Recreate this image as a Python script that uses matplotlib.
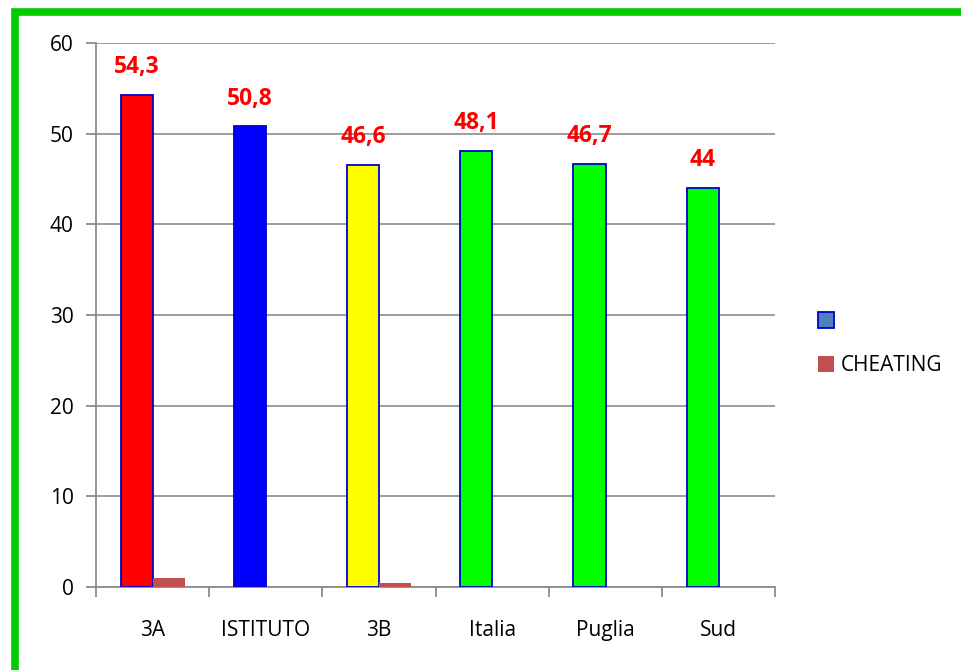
import numpy as np
import matplotlib.pyplot as plt
from matplotlib.patches import Rectangle, Patch

categories = ['3A', 'ISTITUTO', '3B', 'Italia', 'Puglia', 'Sud']
scores = [54.3, 50.8, 46.6, 48.1, 46.7, 44.0]
score_labels = ['54,3', '50,8', '46,6', '48,1', '46,7', '44']
cheating = [1.0, 0.0, 0.45, 0.0, 0.0, 0.0]
bar_colors = ['#FF0000', '#0000FF', '#FFFF00', '#00FF00', '#00FF00', '#00FF00']

plt.rcParams['font.family'] = ['Open Sans', 'DejaVu Sans']

fig = plt.figure(figsize=(9.62, 6.70), dpi=100)
ax = fig.add_axes([0.0998, 0.1239, 0.7062, 0.8119])

# green frame round the chart
fig.patches.append(Rectangle((15.5 / 962, -0.1), 1.2, (670 - 11.5) / 670 + 0.1,
                             transform=fig.transFigure, fill=False,
                             edgecolor='#00CC00', linewidth=5.5, zorder=10))

x = np.arange(len(categories))
w = 0.283
ax.bar(x - w / 2, scores, w, color=bar_colors, edgecolor='#0000CC', linewidth=1.3, zorder=3)
ax.bar(x + w / 2, cheating, w, color='#C0504D', linewidth=0, zorder=3)

for xi, v, lab in zip(x, scores, score_labels):
    ax.annotate(lab, (xi - w / 2, v), xytext=(0, 20), textcoords='offset points',
                ha='center', va='center', color='#FF0000', fontsize=16.5, fontweight='bold')

ax.set_xlim(-0.5, len(categories) - 0.5)
ax.set_ylim(0, 60)
ax.set_yticks(range(0, 61, 10))
ax.yaxis.grid(True, color='#8C8C8C', linewidth=1.2, zorder=0)
ax.set_axisbelow(True)

ax.set_xticks(x)
ax.set_xticklabels(categories)
ax.set_xticks(np.arange(-0.5, len(categories)), minor=True)
ax.tick_params(axis='x', which='major', length=0, pad=24, labelsize=15)
ax.tick_params(axis='x', which='minor', length=7, width=1.3, color='#8C8C8C', direction='out')
ax.tick_params(axis='y', length=7, width=1.3, color='#8C8C8C', labelsize=15, pad=9)

for s in ['top', 'right']:
    ax.spines[s].set_visible(False)
for s in ['left', 'bottom']:
    ax.spines[s].set_color('#8C8C8C')
    ax.spines[s].set_linewidth(1.3)

handles = [Patch(facecolor='#4F81BD', edgecolor='#0000CC', linewidth=1.3, label=' '),
           Patch(facecolor='#C0504D', label='CHEATING')]
fig.legend(handles=handles, loc='center left', bbox_to_anchor=(0.831, 0.487),
           frameon=False, fontsize=15, handlelength=0.75, handleheight=0.75,
           handletextpad=0.35, labelspacing=1.1)

fig.savefig('out.png', dpi=100)
